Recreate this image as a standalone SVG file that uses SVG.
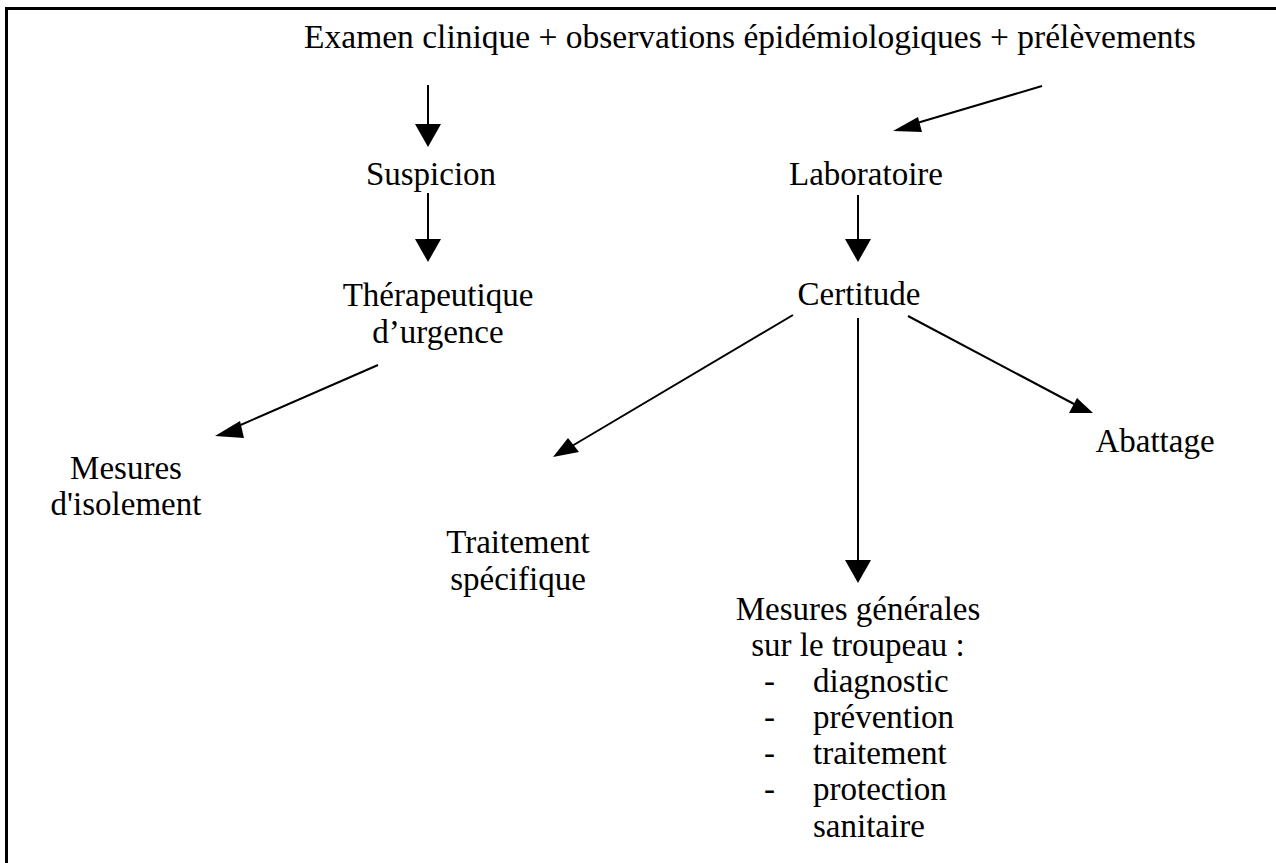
<svg xmlns="http://www.w3.org/2000/svg" width="1276" height="863" viewBox="0 0 1276 863">
  <style>
    text { font-family: "Liberation Serif", serif; font-size: 33px; fill: #000; text-anchor: middle; }
    text.l { text-anchor: start; }
    .c { stroke: #000; stroke-width: 2; fill: none; }
    .frame { stroke: #000; stroke-width: 3; fill: none; }
  </style>
  <defs>
    <clipPath id="page-cut"><rect x="0" y="0" width="1276" height="845"/></clipPath>
  </defs>
  <rect width="1276" height="863" fill="#fff"/>
  <!-- page frame: top and left rules -->
  <path class="frame" d="M6.5,863 V8.5 H1276"/>

  <g id="connectors">
    <line class="c" x1="428" y1="85" x2="428" y2="126"/>
    <path d="M415,124 L441,124 L428,147 z"/>
    <line class="c" x1="428" y1="193" x2="428" y2="240"/>
    <path d="M415,239 L441,239 L428,262 z"/>
    <line class="c" x1="378" y1="365" x2="236" y2="427"/>
    <path d="M215,436 L240,421 L244,438 z"/>
    <line class="c" x1="1042" y1="86" x2="917" y2="123"/>
    <path d="M893,131 L918,117 L922,132 z"/>
    <line class="c" x1="858" y1="195" x2="858" y2="240"/>
    <path d="M845,239 L871,239 L858,262 z"/>
    <line class="c" x1="793" y1="315" x2="572" y2="446"/>
    <path d="M553,457 L568,438 L579,452 z"/>
    <line class="c" x1="858" y1="318" x2="858" y2="560"/>
    <path d="M845,560 L871,560 L858,583 z"/>
    <line class="c" x1="908" y1="316" x2="1074" y2="404"/>
    <path d="M1093,413 L1069,413 L1077,398 z"/>
  </g>

  <g id="n-examen"><text x="750" y="48" style="font-size:33.5px">Examen clinique + observations épidémiologiques + prélèvements</text></g>
  <g id="n-suspicion"><text x="431" y="185">Suspicion</text></g>
  <g id="n-therapeutique"><text x="438" y="306">Thérapeutique</text><text x="438" y="343">d’urgence</text></g>
  <g id="n-isolement"><text x="126" y="479">Mesures</text><text x="126" y="515">d'isolement</text></g>
  <g id="n-laboratoire"><text x="866" y="185">Laboratoire</text></g>
  <g id="n-certitude"><text x="859" y="305">Certitude</text></g>
  <g id="n-traitement"><text x="518" y="553">Traitement</text><text x="518" y="590">spécifique</text></g>
  <g id="n-abattage"><text x="1155" y="452">Abattage</text></g>
  <g id="n-mesures" clip-path="url(#page-cut)">
    <text x="858" y="620">Mesures générales</text>
    <text x="858" y="656">sur le troupeau :</text>
    <text class="l" x="764" y="692">-</text><text class="l" x="813" y="692">diagnostic</text>
    <text class="l" x="764" y="728">-</text><text class="l" x="813" y="728">prévention</text>
    <text class="l" x="764" y="764">-</text><text class="l" x="813" y="764">traitement</text>
    <text class="l" x="764" y="800">-</text><text class="l" x="813" y="800">protection</text>
    <text class="l" x="813" y="837">sanitaire</text>
  </g>
</svg>
